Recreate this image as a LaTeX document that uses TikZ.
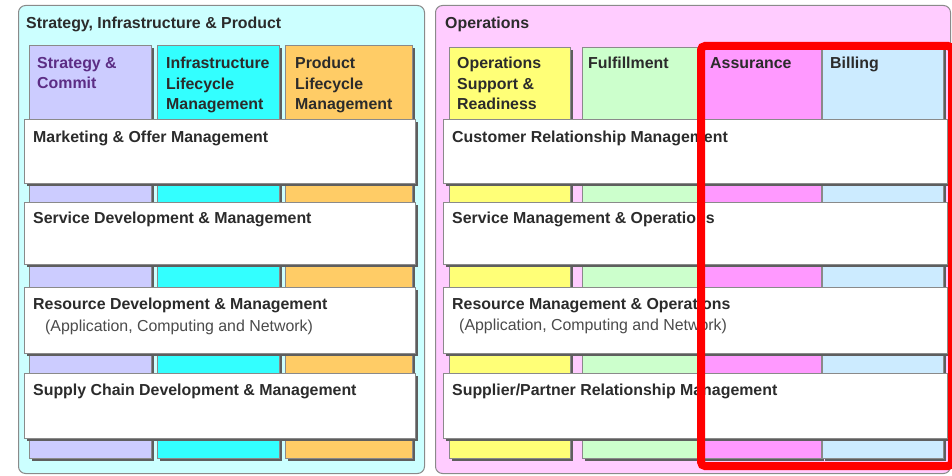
\documentclass[tikz,border=0pt]{standalone}
\usepackage{fontspec}
\setmainfont{Liberation Sans}
\usepackage{xcolor}
\usepackage{tikz}
\usetikzlibrary{shadows}
\definecolor{sipback}{HTML}{CCFFFF}
\definecolor{opsback}{HTML}{FFCCFF}
\definecolor{strat}{HTML}{CCCCFF}
\definecolor{infra}{HTML}{33FFFF}
\definecolor{prod}{HTML}{FFCC66}
\definecolor{osr}{HTML}{FFFF77}
\definecolor{fulfil}{HTML}{CCFFCC}
\definecolor{assur}{HTML}{FF99FF}
\definecolor{bill}{HTML}{CCEBFF}
\definecolor{edge}{HTML}{8A8A8A}
\definecolor{shade}{HTML}{5E5E5E}
\definecolor{ink}{HTML}{2B2B2B}
\definecolor{stratink}{HTML}{5C2D85}
\definecolor{hilite}{HTML}{FF0000}

\begin{document}
\begin{tikzpicture}[x=1pt, y=-1pt,
    panel/.style={draw=edge, line width=1pt, rounded corners=7pt, anchor=north west, inner sep=0pt},
    col/.style={draw=edge, line width=0.9pt, anchor=north west, inner sep=0pt,
      general shadow={fill=shade, shadow xshift=2.5pt, shadow yshift=-2.5pt}},
    bar/.style={col, fill=white, minimum width=#1},
    head/.style={anchor=north west, inner sep=0pt, align=left, text=ink,
      font=\fontsize{15.9}{20.5}\selectfont\bfseries},
    sub/.style={anchor=north west, inner sep=0pt, text=ink!85,
      font=\fontsize{15.9}{20.5}\selectfont},
    frame/.style={draw=hilite, line width=8pt, rounded corners=4pt, anchor=north west, inner sep=0pt}]
    \useasboundingbox (0,0) rectangle (952,476);

    % two domains
    \node[panel, fill=sipback, minimum width=406, minimum height=468] at (18,5) (sip) {};
    \node[panel, fill=opsback, minimum width=515, minimum height=468] at (435,5) (ops) {};
    \node[head] at (26,17) (sipT) {Strategy, Infrastructure \& Product};
    \node[head] at (445,17) (opsT) {Operations};

    % vertical groupings
    \node[col, fill=strat, minimum width=122, minimum height=413] at (29,45) (sc) {};
    \node[col, fill=infra, minimum width=122, minimum height=413] at (157,45) (ilm) {};
    \node[col, fill=prod, minimum width=127, minimum height=413] at (285,45) (plm) {};
    \node[col, fill=osr, minimum width=121, minimum height=411] at (449,47) (osr) {};
    \node[col, fill=fulfil, minimum width=118, minimum height=411] at (582,47) (ful) {};
    \node[col, fill=assur, minimum width=119, minimum height=411] at (702,47) (asu) {};
    \node[col, fill=bill, minimum width=121, minimum height=411] at (822,47) (bil) {};

    \node[head, text=stratink] at (37,57) (scT) {Strategy \&\\Commit};
    \node[head] at (166,57) (ilmT) {Infrastructure\\Lifecycle\\Management};
    \node[head] at (295,57) (plmT) {Product\\Lifecycle\\Management};
    \node[head] at (457,57) (osrT) {Operations\\Support \&\\Readiness};
    \node[head] at (588,57) (fulT) {Fulfillment};
    \node[head] at (710,57) (asuT) {Assurance};
    \node[head] at (830,57) (bilT) {Billing};

    % horizontal layers
    \node[bar=391, minimum height=64] at (24,119) (mom) {};
    \node[bar=391, minimum height=62] at (24,202) (sdm) {};
    \node[bar=391, minimum height=66] at (24,287) (rdm) {};
    \node[bar=391, minimum height=65] at (24,373) (scdm) {};
    \node[bar=504, minimum height=64] at (443,119) (crm) {};
    \node[bar=504, minimum height=62] at (443,202) (smo) {};
    \node[bar=504, minimum height=66] at (443,287) (rmo) {};
    \node[bar=504, minimum height=65] at (443,373) (sprm) {};

    \node[head] at (33,131) (momT) {Marketing \& Offer Management};
    \node[head] at (33,212) (sdmT) {Service Development \& Management};
    \node[head] at (33,298) (rdmT) {Resource Development \& Management};
    \node[sub] at (45,320) (rdmS) {(Application, Computing and Network)};
    \node[head] at (33,384) (scdmT) {Supply Chain Development \& Management};
    \node[head] at (452,131) (crmT) {Customer Relationship Management};
    \node[head] at (452,212) (smoT) {Service Management \& Operations};
    \node[head] at (452,298) (rmoT) {Resource Management \& Operations};
    \node[sub] at (459,319) (rmoS) {(Application, Computing and Network)};
    \node[head] at (452,384) (sprmT) {Supplier/Partner Relationship Management};

    % highlight
    \node[frame, minimum width=251, minimum height=420] at (697,42) (focus) {};
\end{tikzpicture}
\end{document}
